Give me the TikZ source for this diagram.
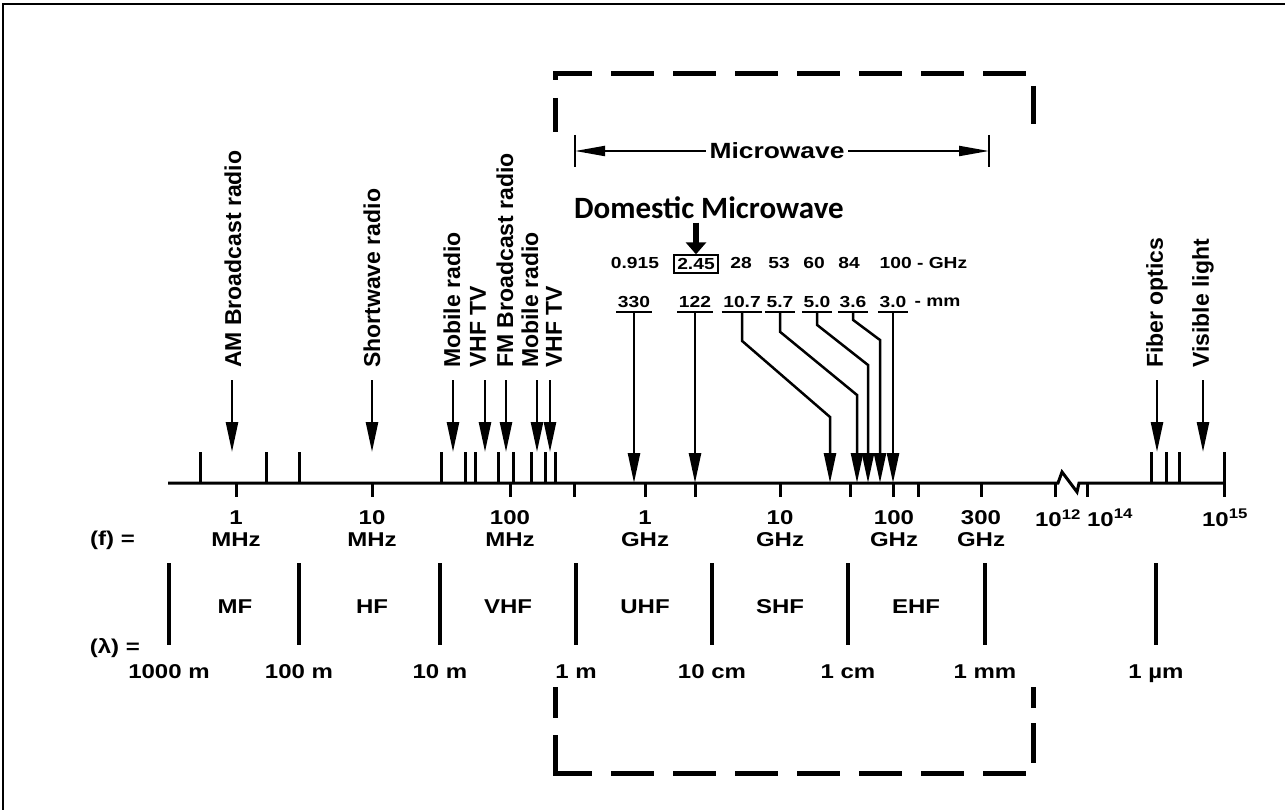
\documentclass[tikz,border=0pt]{standalone}
\usepackage{fontspec}
\setmainfont{Liberation Sans}
\newfontfamily\widefont[FakeStretch=1.2]{Liberation Sans}
\newfontfamily\domfont{Carlito}
\usetikzlibrary{positioning, arrows.meta}

\begin{document}
\begin{tikzpicture}[x=1pt, y=-1pt,
  arr/.style={line width=2.5pt, -{Triangle[length=30pt,width=12pt]}},
  vlab/.style={rotate=90, anchor=west, inner sep=2pt, font=\fontsize{23}{25}\selectfont\bfseries},
  wlab/.style={font=\widefont\fontsize{20}{22}\selectfont\bfseries, inner sep=1pt},
  small/.style={font=\widefont\fontsize{16}{18}\selectfont\bfseries, inner sep=1.5pt},
  tick/.style={line width=3pt},
  band/.style={line width=4pt},
  box/.style={line width=5pt}]
\useasboundingbox (0,0) rectangle (1285,810);
\draw[line width=2.5pt] (3,810) -- (3,4) -- (1285,4);

% dashed microwave window
\draw[box, dash pattern=on 43pt off 19pt] (555,80) -- (555,74) -- (1027,74);
\draw[box] (555,98) -- (555,132);
\draw[box] (1033,86) -- (1033,124);
\draw[box] (555,687) -- (555,718);
\draw[box] (555,735) -- (555,773) -- (592,773);
\draw[box, dash pattern=on 43pt off 19pt] (611,773) -- (1027,773);
\draw[box] (1033,687) -- (1033,708);
\draw[box] (1033,723) -- (1033,763);

% frequency axis
\draw[tick] (168,483) -- (1058,483) -- (1062,472) -- (1077,492) -- (1079,483) -- (1224,483);
\foreach \x in {200,266,299,441,465,475,498,513,531,545,555,1151,1166,1179}
  \draw[tick] (\x,483) -- (\x,452);
\foreach \x in {236,372,510,574,645,695,780,850,893,918,981,1055,1087}
  \draw[tick] (\x,483) -- (\x,497);
\draw[tick] (1224,452) -- (1224,497);

% applications
\foreach \n/\tx/\ax/\t in {am/233/232/AM Broadcast radio, sw/372/372/Shortwave radio,
    mob1/452/453/Mobile radio, vhf1/478/485/VHF TV, fm/505/506/FM Broadcast radio,
    mob2/530/537/Mobile radio, vhf2/554/550/VHF TV, fib/1157/1157/Fiber optics,
    vis/1203/1203/Visible light} {
  \node[vlab] (\n) at (\tx,370) {\t};
  \coordinate (\n tip) at (\ax,452);
  \draw[arr] (\n tip |- \n.west) ++(0,10) -- (\n tip);
}

% microwave range
\node[font=\widefont\fontsize{22}{24}\selectfont\bfseries] (mw) at (777,151) {Microwave};
\coordinate (mwL) at (575,151);
\coordinate (mwR) at (989,151);
\draw[line width=2pt, -{Triangle[length=30pt,width=10pt]}] (mw) -- (mwL);
\draw[line width=2pt, -{Triangle[length=30pt,width=10pt]}] (mw) -- (mwR);
\draw[line width=2.5pt] (mwL) ++(0,-16) -- ++(0,32);
\draw[line width=2.5pt] (mwR) ++(0,-16) -- ++(0,32);

\node[font=\domfont\fontsize{31}{32}\selectfont\bfseries] (dom) at (709,208) {Domestic Microwave};

\node[small] (g0915) at (635,263) {0.915};
\node[small, draw, line width=2pt, inner xsep=3pt, inner ysep=3pt] (g245) at (696,264) {2.45};
\node[small] (g28) at (741,263) {28};
\node[small] (g53) at (779,263) {53};
\node[small] (g60) at (814,263) {60};
\node[small] (g84) at (849,263) {84};
\node[small, anchor=west] (g100) at (878,263) {100 - GHz};
\draw[line width=6pt, -{Triangle[length=12pt,width=20pt]}] (g245.north |- dom.south) -- (g245.north);

\foreach \n/\x/\t in {w330/634/330, w122/695/122, w107/742/10.7, w57/780/5.7,
    w50/817/5.0, w36/853/3.6, w30/893/3.0} {
  \node[small, inner ysep=4pt] (\n) at (\x,302) {\t};
  \draw[line width=2.5pt] (\n.south west) -- (\n.south east);
}
\node[small, anchor=west] (wmm) at (913,302) {- mm};

\coordinate (a330) at (634,483);
\coordinate (a122) at (695,483);
\coordinate (a107) at (830,483);
\coordinate (a57) at (857,483);
\coordinate (a50) at (868,483);
\coordinate (a36) at (880,483);
\coordinate (a30) at (893,483);
\draw[arr] (w330.south) -- (a330);
\draw[arr] (w122.south) -- (a122);
\draw[arr] (w107.south) -- ++(0,29) -- (830,417) -- (a107);
\draw[arr] (w57.south) -- ++(0,20) -- (857,395) -- (a57);
\draw[arr] (w50.south) -- ++(0,13) -- (868,365) -- (a50);
\draw[arr] (w36.south) -- ++(0,8) -- (880,340) -- (a36);
\draw[arr] (w30.south) -- (a30);

% scale labels
\foreach \x/\n/\u in {236/1/MHz, 372/10/MHz, 510/100/MHz, 645/1/GHz, 780/10/GHz,
    894/100/GHz, 981/300/GHz}
  \node[wlab, align=center] (f\x) at (\x,529) {\n\\\u};
\node[wlab] (p12) at (1058,518) {10\textsuperscript{12}};
\node[wlab] (p14) at (1110,518) {10\textsuperscript{14}};
\node[wlab] (p15) at (1225,518) {10\textsuperscript{15}};
\node[wlab, anchor=east] (feq) at (136,540) {(f) =};
\node[wlab, anchor=east] (leq) at (141,648) {(λ) =};

\foreach \x in {169,299,440,576,712,848,985,1156}
  \draw[band] (\x,563) -- (\x,645);
\foreach \x/\t in {235/MF, 372/HF, 508/VHF, 645/UHF, 780/SHF, 916/EHF}
  \node[wlab] (b\t) at (\x,607) {\t};
\foreach \x/\t in {169/1000 m, 299/100 m, 440/10 m, 576/1 m, 712/10 cm, 848/1 cm,
    985/1 mm, 1156/1 µm}
  \node[wlab, anchor=base] (l\x) at (\x,678) {\t};
\end{tikzpicture}
\end{document}
